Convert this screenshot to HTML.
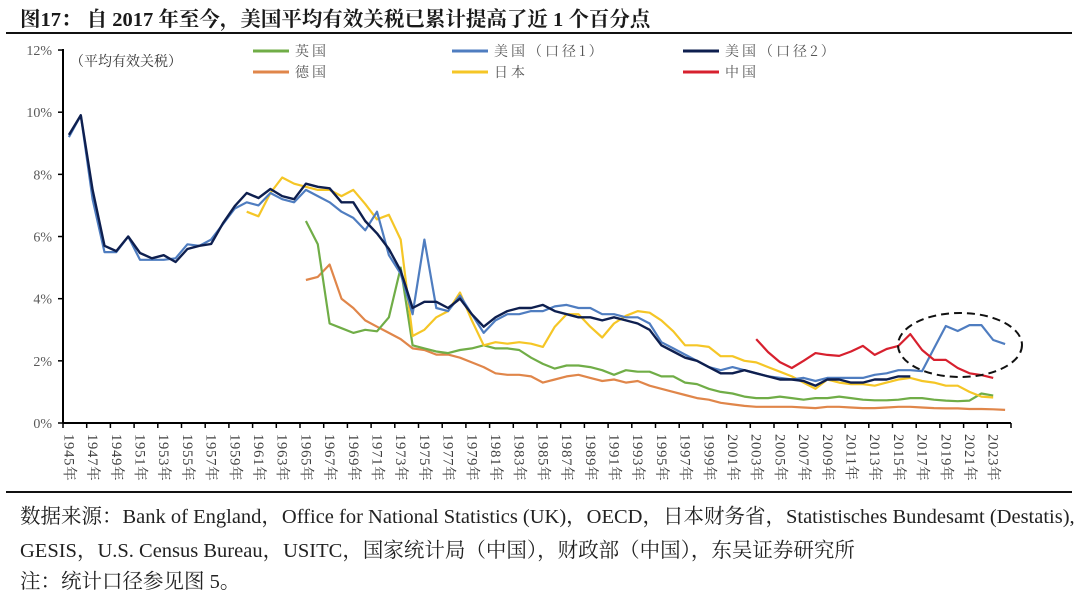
<!DOCTYPE html>
<html><head><meta charset="utf-8"><style>
body{margin:0;background:#fff;width:1080px;height:589px;overflow:hidden;font-family:"Liberation Serif","Noto Serif CJK SC",serif}
.t{position:absolute;white-space:nowrap}
</style></head><body>
<div class="t" style="left:20px;top:2px;font-size:20.5px;font-weight:bold;color:#1a1a1a;font-family:'Liberation Serif','Noto Serif CJK SC',serif">图17：&nbsp;自 2017 年至今，美国平均有效关税已累计提高了近 1 个百分点</div>
<div style="position:absolute;left:6px;top:32px;width:1066px;height:2px;background:#111"></div>
<div style="position:absolute;left:6px;top:491px;width:1066px;height:2px;background:#111"></div>
<svg id="chart" width="1080" height="490" style="position:absolute;left:0;top:0" xmlns="http://www.w3.org/2000/svg"></svg>
<div class="t" style="left:20px;top:499px;font-size:20.5px;color:#222">数据来源：Bank of England，Office for National Statistics (UK)，OECD，日本财务省，Statistisches Bundesamt (Destatis),</div>
<div class="t" style="left:20px;top:533px;font-size:20.5px;color:#222">GESIS，U.S. Census Bureau，USITC，国家统计局（中国），财政部（中国），东吴证券研究所</div>
<div class="t" style="left:20px;top:564px;font-size:20.5px;color:#222">注：统计口径参见图 5。</div>
<script>
const years=[];for(let y=1945;y<=2024;y++)years.push(y);
const yTicks=[0,2,4,6,8,10,12];
const us1Start=1945;
const us1=[9.2,9.9,7.2,5.5,5.5,6.0,5.25,5.25,5.25,5.3,5.75,5.7,5.9,6.4,6.9,7.1,7.0,7.4,7.2,7.1,7.5,7.3,7.1,6.8,6.6,6.2,6.8,5.4,4.8,3.5,5.9,3.7,3.6,4.1,3.5,2.9,3.3,3.5,3.5,3.6,3.6,3.75,3.8,3.7,3.7,3.5,3.5,3.4,3.4,3.2,2.6,2.4,2.2,2.0,1.8,1.7,1.8,1.7,1.6,1.5,1.45,1.4,1.45,1.35,1.45,1.45,1.45,1.45,1.55,1.6,1.7,1.7,1.67,2.4,3.12,2.96,3.15,3.15,2.67,2.54];
const us2Start=1945;
const us2=[9.27,9.9,7.5,5.7,5.53,6.0,5.47,5.3,5.4,5.18,5.6,5.7,5.76,6.43,6.98,7.4,7.24,7.53,7.3,7.2,7.7,7.6,7.55,7.1,7.1,6.5,6.1,5.6,4.9,3.7,3.9,3.9,3.7,4.0,3.5,3.1,3.4,3.6,3.7,3.7,3.8,3.6,3.5,3.4,3.4,3.3,3.4,3.3,3.2,3.0,2.5,2.3,2.1,2.0,1.8,1.6,1.6,1.7,1.6,1.5,1.4,1.4,1.35,1.2,1.4,1.4,1.3,1.3,1.4,1.4,1.5,1.5];
const jpStart=1960;
const jp=[6.8,6.65,7.4,7.9,7.7,7.6,7.5,7.5,7.3,7.5,7.05,6.55,6.7,5.9,2.8,3.0,3.4,3.6,4.2,3.3,2.5,2.6,2.55,2.6,2.55,2.45,3.1,3.5,3.5,3.1,2.75,3.2,3.45,3.6,3.55,3.3,2.95,2.5,2.5,2.45,2.15,2.15,2.0,1.95,1.8,1.65,1.5,1.3,1.1,1.4,1.3,1.25,1.25,1.2,1.3,1.4,1.45,1.35,1.3,1.2,1.2,1.0,0.85,0.82];
const ukStart=1965;
const uk=[6.5,5.75,3.2,3.05,2.9,3.0,2.95,3.4,5.0,2.5,2.4,2.3,2.25,2.35,2.4,2.5,2.4,2.4,2.35,2.1,1.9,1.75,1.85,1.85,1.8,1.7,1.55,1.7,1.65,1.65,1.5,1.5,1.3,1.25,1.1,1.0,0.95,0.85,0.8,0.8,0.85,0.8,0.75,0.8,0.8,0.85,0.8,0.75,0.73,0.73,0.75,0.8,0.8,0.75,0.72,0.7,0.72,0.95,0.88];
const deStart=1965;
const de=[4.6,4.7,5.1,4.0,3.7,3.3,3.1,2.9,2.7,2.4,2.35,2.2,2.2,2.1,1.95,1.8,1.6,1.55,1.55,1.5,1.3,1.4,1.5,1.55,1.45,1.35,1.4,1.3,1.35,1.2,1.1,1.0,0.9,0.8,0.75,0.65,0.6,0.55,0.52,0.52,0.52,0.52,0.5,0.48,0.52,0.52,0.5,0.48,0.48,0.5,0.52,0.52,0.5,0.48,0.47,0.47,0.45,0.45,0.44,0.42];
const cnStart=2003;
const cn=[2.7,2.28,1.96,1.77,2.0,2.25,2.19,2.16,2.3,2.48,2.19,2.38,2.48,2.86,2.35,2.03,2.03,1.77,1.6,1.54,1.45];

const NS='http://www.w3.org/2000/svg',svg=document.getElementById('chart');
const X0=63,CW=11.85,Y0=423,PY=31.08;
const xs=y=>X0+(y-1945+0.5)*CW, ys=v=>Y0-v*PY;
function mk(t,a){const e=document.createElementNS(NS,t);for(const k in a)e.setAttribute(k,a[k]);svg.appendChild(e);return e;}
let ax=mk('line',{x1:X0,y1:49,x2:X0,y2:Y0,stroke:'#000','stroke-width':2});


let bx=mk('line',{x1:X0,y1:Y0,x2:X0+years.length*CW,y2:Y0,stroke:'#000','stroke-width':2});


yTicks.forEach(v=>{
 const tk=mk('line',{x1:X0-5,y1:ys(v),x2:X0,y2:ys(v),stroke:'#000','stroke-width':1.5});
 
 
 const t=mk('text',{x:52,y:ys(v)+5,'text-anchor':'end','font-size':14,fill:'#595959','font-family':'Liberation Serif,serif'});
 t.textContent=v+'%';
 
 
});
for(let i=0;i<=years.length;i+=2){
 const tk=mk('line',{x1:X0+i*CW,y1:Y0,x2:X0+i*CW,y2:Y0+5,stroke:'#000','stroke-width':1.5});
 
 
}
years.forEach((y,i)=>{if(i%2)return;
 const x=xs(y)-4.5,t=mk('text',{x:x,y:434,transform:`rotate(90 ${x} 434)`,'font-size':14.5,'letter-spacing':'0.8',fill:'#404040','font-family':'Liberation Serif,Noto Serif CJK SC,serif'});
 t.textContent=y+'年';
 
 
});
function series(arr,start,color,name,w){
 const pts=arr.map((v,i)=>xs(start+i).toFixed(1)+','+ys(v).toFixed(1)).join(' ');
 const p=mk('polyline',{points:pts,fill:'none',stroke:color,'stroke-width':w||2.2,'stroke-linejoin':'round'});
 
 
}
series(de,deStart,'#E0864A','series-germany');
series(uk,ukStart,'#70AD47','series-uk');
series(jp,jpStart,'#F5C626','series-japan');
series(us1,us1Start,'#4F7DC0','series-us-1');
series(us2,us2Start,'#0E1F4F','series-us-2',2.4);
series(cn,cnStart,'#D7202E','series-china');
const el=mk('ellipse',{cx:960,cy:345,rx:62,ry:32,fill:'none',stroke:'#111','stroke-width':2,'stroke-dasharray':'8,5'});


const ut=mk('text',{x:70,y:66,'font-size':14,fill:'#333','font-family':'Noto Serif CJK SC,serif'});
ut.textContent='（平均有效关税）';


const leg=[['英国','#70AD47',253,51],['美国（口径1）','#4F7DC0',452,51],['美国（口径2）','#0E1F4F',683,51],['德国','#E0864A',253,72],['日本','#F5C626',452,72],['中国','#D7202E',683,72]];
leg.forEach(l=>{
 const ln=mk('line',{x1:l[2],y1:l[3],x2:l[2]+36,y2:l[3],stroke:l[1],'stroke-width':3});
 
 
 const t=mk('text',{x:l[2]+42,y:l[3]+5,'font-size':14,fill:'#555','letter-spacing':'3','font-family':'Noto Serif CJK SC,serif'});
 t.textContent=l[0];
 
 
});
</script>
</body></html>
